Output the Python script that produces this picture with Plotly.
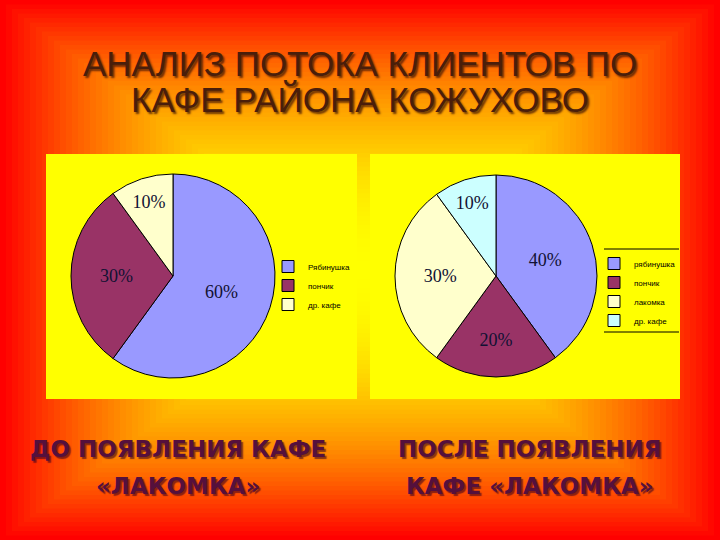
import plotly.graph_objects as go

W, H = 720, 540

# ---- data ----
before_labels = ["Рябинушка", "пончик", "др. кафе"]
before_values = [60, 30, 10]
# trailing no-break space keeps the legend entries of the two charts separate
after_labels = ["рябинушка", "пончик\u00a0", "лакомка", "др. кафе\u00a0"]
after_values = [40, 20, 30, 10]

before_colors = ["#9999FF", "#993366", "#FFFFCC"]
after_colors = ["#9999FF", "#993366", "#FFFFCC", "#CCFFFF"]

title_lines = ["АНАЛИЗ ПОТОКА КЛИЕНТОВ ПО", "КАФЕ РАЙОНА КОЖУХОВО"]
caption_left = ["ДО ПОЯВЛЕНИЯ КАФЕ", "«ЛАКОМКА»"]
caption_right = ["ПОСЛЕ ПОЯВЛЕНИЯ", "КАФЕ «ЛАКОМКА»"]


def px(x):
    return x / W


def py(y):
    return 1 - y / H


shapes = []
# rectangular "from centre" background gradient red -> yellow
N = 60
for i in range(N):
    d = 1 - i / N  # 1 at edge, ->0 at centre
    g = int(round(255 * (1 - d ** 2)))
    g = max(0, min(255, g))
    inset = (1 - d) * 0.5
    shapes.append(dict(type="rect", xref="paper", yref="paper",
                       x0=inset, x1=1 - inset, y0=inset, y1=1 - inset,
                       fillcolor=f"rgb(255,{g},0)", line=dict(width=0), layer="below"))

# yellow chart panels
for (x0, x1) in [(46, 357), (370, 680)]:
    shapes.append(dict(type="rect", xref="paper", yref="paper",
                       x0=px(x0), x1=px(x1), y0=py(399), y1=py(154),
                       fillcolor="#FFFF00", line=dict(width=0), layer="below"))

# right legend rules
for yy in [249, 332]:
    shapes.append(dict(type="line", xref="paper", yref="paper",
                       x0=px(604), x1=px(679), y0=py(yy), y1=py(yy),
                       line=dict(color="#000000", width=1)))

fig = go.Figure()

label_font = dict(family="Liberation Serif, Times New Roman, serif", size=18, color="#111133")

fig.add_trace(go.Pie(
    labels=before_labels, values=before_values, sort=False, direction="clockwise",
    rotation=0, marker=dict(colors=before_colors, line=dict(color="#000000", width=1)),
    texttemplate="%{percent:.0%}", textposition="inside", insidetextorientation="horizontal",
    textfont=label_font, hoverinfo="label+percent",
    domain=dict(x=[px(71), px(275)], y=[py(378), py(174)]),
    legend="legend", showlegend=True,
))

fig.add_trace(go.Pie(
    labels=after_labels, values=after_values, sort=False, direction="clockwise",
    rotation=0, marker=dict(colors=after_colors, line=dict(color="#000000", width=1)),
    texttemplate="%{percent:.0%}", textposition="inside", insidetextorientation="horizontal",
    textfont=label_font, hoverinfo="label+percent",
    domain=dict(x=[px(395), px(597)], y=[py(377), py(175)]),
    legend="legend2", showlegend=True,
))

annotations = []
title_font = dict(family="Liberation Sans Narrow, Arial Narrow, Liberation Sans, sans-serif",
                  size=35, color="#4a1e0a", shadow="2px 2px 2px rgba(70,25,5,0.8)")
for i, t in enumerate(title_lines):
    annotations.append(dict(text=t, xref="paper", yref="paper", x=0.5, y=py(64 + 36 * i),
                            xanchor="center", yanchor="middle", showarrow=False, font=title_font))

cap_font = dict(family="DejaVu Sans, Verdana, sans-serif", size=23, color="#55103c",
                weight="bold", shadow="2px 2px 1px rgba(60,0,30,0.6)")
for i, t in enumerate(caption_left):
    annotations.append(dict(text=t, xref="paper", yref="paper", x=px(178), y=py(449 + 37 * i),
                            xanchor="center", yanchor="middle", showarrow=False, font=cap_font))
for i, t in enumerate(caption_right):
    annotations.append(dict(text=t, xref="paper", yref="paper", x=px(530), y=py(449 + 37 * i),
                            xanchor="center", yanchor="middle", showarrow=False, font=cap_font))

legend_font = dict(family="Liberation Sans, Arial, sans-serif", size=8, color="#000000")

fig.update_layout(
    width=W, height=H, autosize=False,
    margin=dict(l=0, r=0, t=0, b=0),
    paper_bgcolor="#FF0000", plot_bgcolor="rgba(0,0,0,0)",
    shapes=shapes, annotations=annotations,
    legend=dict(x=px(268), y=py(252), xanchor="left", yanchor="top", bgcolor="rgba(0,0,0,0)",
                font=legend_font, itemwidth=30, tracegroupgap=0),
    legend2=dict(x=px(594), y=py(249), xanchor="left", yanchor="top", bgcolor="rgba(0,0,0,0)",
                 font=legend_font, itemwidth=30, tracegroupgap=0),
)

fig.write_html("out.html", config={"displayModeBar": False},
               post_script="document.body.style.margin='0';")
